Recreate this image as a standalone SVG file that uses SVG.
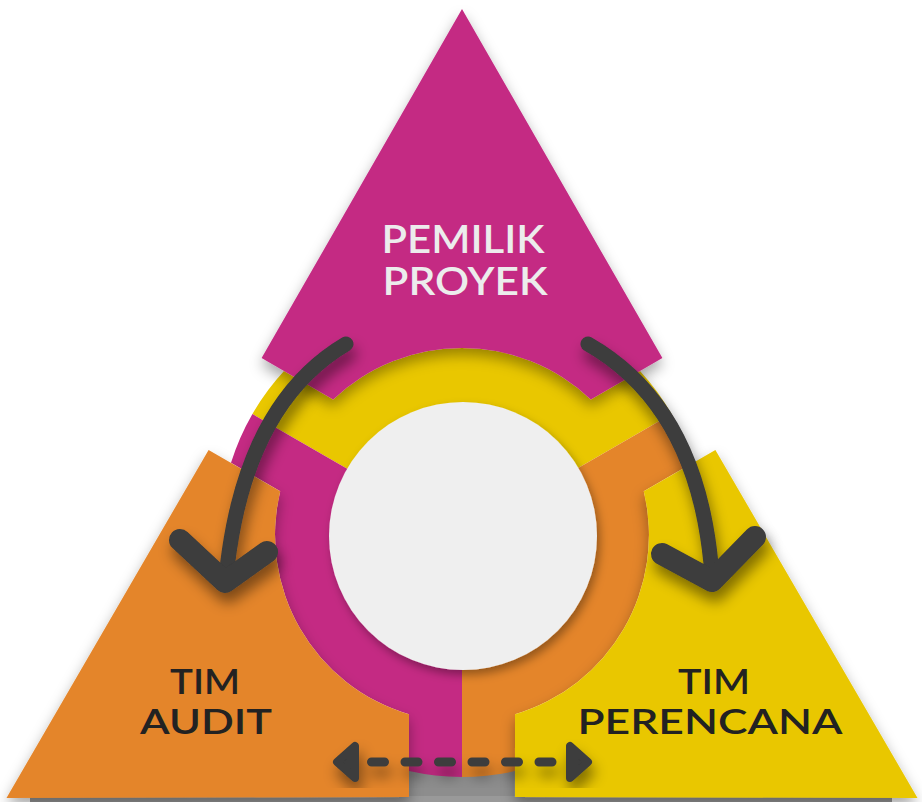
<svg xmlns="http://www.w3.org/2000/svg" width="922" height="802" viewBox="0 0 922 802">
  <defs>
    <style>
      .lbl { font-family: "Lato", "Open Sans", "Liberation Sans", sans-serif; font-weight: 600; text-anchor: middle; }
      .top { fill: #ececec; font-size: 38px; }
      .dark { fill: #222222; font-size: 34px; }
      .arr { fill: none; stroke: #3c3c3c; stroke-linecap: round; stroke-linejoin: round; }
      .mag { fill: #c42a83; }
      .org { fill: #e4852a; }
      .yel { fill: #e9c700; }
    </style>
    <filter id="sh" x="-20%" y="-20%" width="140%" height="140%">
      <feDropShadow dx="0" dy="7" stdDeviation="7" flood-color="#000" flood-opacity="0.35"/>
    </filter>
    <filter id="shc" x="-20%" y="-20%" width="140%" height="140%">
      <feDropShadow dx="3" dy="5" stdDeviation="5" flood-color="#000" flood-opacity="0.35"/>
    </filter>
    <filter id="sha" x="-30%" y="-30%" width="160%" height="160%">
      <feDropShadow dx="3" dy="10" stdDeviation="7" flood-color="#000" flood-opacity="0.45"/>
    </filter>
    <path id="kite" d="M261.6,358.1 L462,9 L662.4,358.1 L590.8,399.43 A187,187 0 0 0 333.2,399.43 Z"/>
    <path id="sector" d="M462,535 L252.42,414 A242,242 0 0 1 284.01,371.04 L333.2,399.43 A187,187 0 0 1 590.8,399.43 L639.99,371.04 A242,242 0 0 1 671.58,414 Z"/>
  </defs>
  <rect width="922" height="802" fill="#ffffff"/>

  <!-- floor -->
  <g id="floor">
    <rect x="405" y="740" width="115" height="62" fill="#8d8d8d"/>
    <rect x="30" y="796" width="862" height="6" fill="#999999"/>
  </g>

  <!-- central ring -->
  <g id="ring">
    <use href="#sector" class="yel"/>
    <use href="#sector" class="org" transform="rotate(120 462 535)"/>
    <use href="#sector" class="mag" transform="rotate(240 462 535)"/>
    <circle cx="463" cy="536" r="134" fill="#efefef" filter="url(#shc)"/>
  </g>

  <!-- nodes -->
  <g id="node-pemilik-proyek">
    <g filter="url(#sh)"><use href="#kite" class="mag"/></g>
    <text class="lbl top" x="463" y="253" textLength="163" lengthAdjust="spacingAndGlyphs">PEMILIK</text>
    <text class="lbl top" x="465" y="295" textLength="165" lengthAdjust="spacingAndGlyphs">PROYEK</text>
  </g>
  <g id="node-tim-perencana">
    <g filter="url(#sh)"><use href="#kite" class="yel" transform="rotate(120 462 535)"/></g>
    <text class="lbl dark" x="714" y="694" textLength="72" lengthAdjust="spacingAndGlyphs">TIM</text>
    <text class="lbl dark" x="710" y="734" textLength="265" lengthAdjust="spacingAndGlyphs">PERENCANA</text>
  </g>
  <g id="node-tim-audit">
    <g filter="url(#sh)"><use href="#kite" class="org" transform="rotate(240 462 535)"/></g>
    <text class="lbl dark" x="205" y="694" textLength="70" lengthAdjust="spacingAndGlyphs">TIM</text>
    <text class="lbl dark" x="206" y="734" textLength="132" lengthAdjust="spacingAndGlyphs">AUDIT</text>
  </g>

  <!-- connectors -->
  <g id="connectors">
    <g filter="url(#sha)">
      <path class="arr" stroke-width="15" d="M346,344 Q243,405 226,578"/>
      <path class="arr" stroke-width="22" d="M180,540 L225,582 L267,552"/>
    </g>
    <g filter="url(#sha)">
      <path class="arr" stroke-width="15" d="M588,344 Q700,408 712,576"/>
      <path class="arr" stroke-width="22" d="M662,554 L712,581 L755,537"/>
    </g>
    <g filter="url(#sha)">
      <path class="arr" stroke-width="9" stroke-dasharray="13 20.5" d="M371.5,762 L556,762"/>
      <polygon points="337,762 355,746 355,778" fill="#3c3c3c" stroke="#3c3c3c" stroke-width="8" stroke-linejoin="round"/>
      <polygon points="588,762 570,746 570,778" fill="#3c3c3c" stroke="#3c3c3c" stroke-width="8" stroke-linejoin="round"/>
    </g>
  </g>
</svg>
